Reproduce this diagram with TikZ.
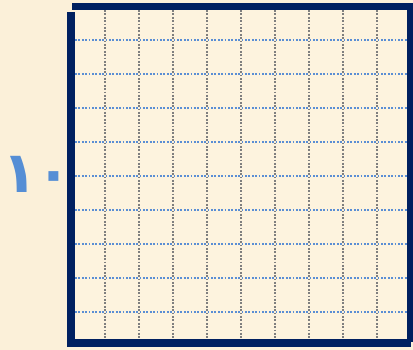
\documentclass[tikz,border=0pt]{standalone}
\usepackage{fontspec}
\newfontfamily\arabicfont[Script=Arabic]{DejaVu Sans}
\TeXXeTstate=1
\definecolor{paper}{HTML}{FBF0D9}
\definecolor{inner}{HTML}{FDF3DE}
\definecolor{navy}{HTML}{002060}
\definecolor{dotblue}{HTML}{5A8ED4}
\definecolor{dotgray}{HTML}{7F7F7F}
\definecolor{numblue}{HTML}{558ED5}
\begin{document}
\begin{tikzpicture}[x=1pt,y=-1pt,
  bar/.style={fill=navy,draw=none},
  hline/.style={dotblue,line width=1.8pt,dash pattern=on 1.8pt off 1.6pt},
  vline/.style={dotgray,line width=1.8pt,dash pattern=on 1.8pt off 1.6pt}]
\useasboundingbox (0,0) rectangle (413,350);
\fill[paper] (0,0) rectangle (413,350);
\fill[inner] (75,10) rectangle (407,339);
\foreach \i in {1,...,9} {
  \draw[vline] (71+34*\i,10) -- (71+34*\i,339);
}
\foreach \j in {1,...,9} {
  \draw[hline] (75,6+34*\j) -- (407,6+34*\j);
}
\fill[bar] (72,3) rectangle (413,10);
\fill[bar] (407,10) rectangle (413,342);
\fill[bar] (67,339) rectangle (411,347);
\fill[bar] (67,12) rectangle (75,347);
\node[text=numblue,font=\arabicfont\bfseries\fontsize{57}{63}\selectfont,inner sep=0pt] (num) at (37,174) {\beginR\beginL ١٠\endL\endR};
\end{tikzpicture}
\end{document}
